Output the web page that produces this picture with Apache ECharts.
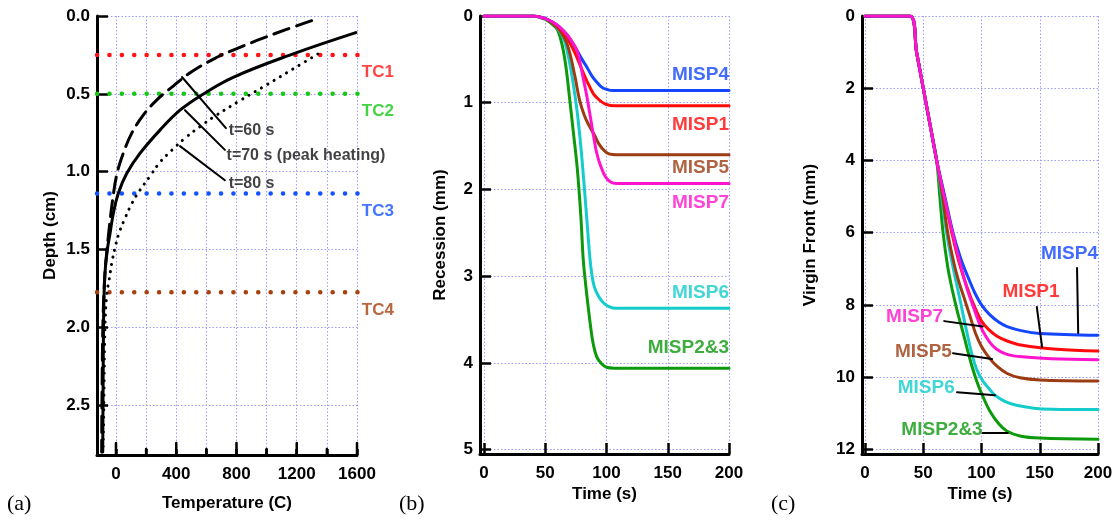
<!DOCTYPE html>
<html><head><meta charset="utf-8">
<script src="https://cdn.jsdelivr.net/npm/echarts@6/dist/echarts.min.js"></script>
<style>html,body{margin:0;padding:0;background:#fff}#c{width:1113px;height:520px}</style>
</head><body><div id="c"></div>
<script>
// ---------- Panel (a): temperature profiles ----------
const depthTicksA = [0, 0.5, 1.0, 1.5, 2.0, 2.5];
const tempTicksA = [0, 200, 400, 600, 800, 1000, 1200, 1400, 1600];
const tempLabelsA = [0, 400, 800, 1200, 1600];
// [temperature C, depth cm]
const profile60 = [[1299,0.03],[1132,0.086],[944,0.154],[778,0.219],[677,0.262],[502,0.358],[380,0.45],[270,0.54],[181,0.637],[104,0.754],[48,0.883],[5,1.02],[-22,1.18],[-44,1.355],[-62,1.526],[-73,1.65],[-86,1.95],[-93,2.47],[-95,2.8]];
const profile70 = [[1592,0.107],[1154,0.251],[778,0.394],[568,0.508],[425,0.605],[292,0.733],[159,0.883],[71,1.012],[15,1.14],[-18,1.27],[-40,1.40],[-58,1.505],[-73,1.65],[-80,1.83],[-83,2.0],[-86,2.47],[-88,2.8]];
const profile80 = [[1340,0.244],[1174,0.341],[1002,0.441],[829,0.540],[657,0.643],[557,0.711],[458,0.785],[371,0.862],[292,0.939],[226,1.029],[159,1.119],[106,1.203],[60,1.299],[20,1.395],[-7,1.492],[-27,1.582],[-46,1.698],[-60,1.781],[-73,2.0],[-80,2.47],[-86,2.8]];
const tcNames = ['TC1', 'TC2', 'TC3', 'TC4'];
const tcDepths = [0.25, 0.5, 1.14, 1.775];
const timeNamesA = ['t=60 s', 't=70 s (peak heating)', 't=80 s'];

// ---------- Panel (b): recession ----------
const timeTicks = [0, 50, 100, 150, 200];
const recTicks = [0, 1, 2, 3, 4, 5];
const recMISP23 = [[0,0],[40,0],[50,0.04],[56,0.1],[60,0.16],[64,0.35],[67,0.6],[70,0.97],[73,1.35],[76,1.74],[79,2.3],[81,2.81],[83,3.1],[85,3.35],[87,3.58],[89,3.77],[92,3.93],[96,4.01],[100,4.05],[106,4.06],[200,4.06]];
const recMISP6 = [[0,0],[40,0],[50,0.03],[56,0.08],[62,0.18],[66,0.3],[70,0.55],[73,0.8],[76,1.1],[79,1.5],[82,2.0],[84.5,2.45],[86.5,2.8],[88,2.98],[90,3.12],[93,3.22],[97,3.3],[102,3.35],[108,3.37],[200,3.37]];
const recMISP5 = [[0,0],[40,0],[50,0.03],[56,0.08],[62,0.17],[68,0.33],[74,0.68],[78,0.97],[82,1.15],[86,1.27],[90,1.37],[94,1.48],[98,1.55],[102,1.59],[108,1.6],[200,1.6]];
const recMISP1 = [[0,0],[40,0],[50,0.03],[56,0.08],[62,0.15],[68,0.26],[74,0.42],[80,0.62],[84,0.75],[89,0.89],[92,0.94],[96,0.99],[100,1.02],[106,1.035],[200,1.035]];
const recMISP4 = [[0,0],[40,0],[50,0.03],[56,0.07],[62,0.13],[68,0.22],[74,0.35],[80,0.5],[84,0.59],[88,0.69],[92,0.76],[96,0.82],[100,0.845],[105,0.86],[200,0.86]];
const recMISP7 = [[0,0],[40,0],[50,0.03],[56,0.07],[62,0.13],[68,0.22],[72,0.3],[76,0.4],[78,0.51],[81,0.72],[84,0.93],[87,1.18],[89,1.35],[92,1.58],[95,1.72],[99,1.85],[103,1.91],[108,1.93],[200,1.93]];

// ---------- Panel (c): virgin front ----------
const vfTicks = [0, 2, 4, 6, 8, 10, 12];
const vfMISP23 = [[0,0],[38.5,0],[44.25,1.0],[50,2.0],[55.75,3.0],[61.5,4.0],[64.2,5.0],[67,6.0],[71,6.95],[75,7.6],[79,8.15],[84,8.75],[88,9.25],[92,9.72],[96,10.12],[100,10.45],[107,10.93],[115,11.3],[122,11.5],[133,11.63],[150,11.69],[200,11.72]];
const vfMISP6 = [[0,0],[38.5,0],[44.25,1.0],[50,2.0],[55.75,3.0],[61.5,4.0],[65.8,5.0],[70,6.0],[75.5,6.95],[81.5,7.85],[87,8.7],[92,9.4],[96,9.8],[101,10.1],[106,10.3],[111.5,10.5],[120,10.67],[130,10.78],[145,10.86],[160,10.89],[200,10.9]];
const vfMISP5 = [[0,0],[38.5,0],[44.25,1.0],[50,2.0],[55.75,3.0],[61.5,4.0],[66.5,5.0],[71,6.0],[76,6.8],[80,7.3],[85,7.8],[90,8.3],[95,8.8],[100,9.15],[107,9.48],[114,9.72],[122,9.9],[133,10.02],[150,10.08],[200,10.11]];
const vfMISP1 = [[0,0],[38.5,0],[44.25,1.0],[50,2.0],[55.75,3.0],[61.5,4.0],[68,5.0],[74.5,6.0],[81,6.85],[88,7.55],[94,8.05],[100,8.45],[106,8.68],[113,8.86],[122,9.0],[135,9.12],[165,9.23],[200,9.28]];
const vfMISP4 = [[0,0],[38.5,0],[44.25,1.0],[50,2.0],[55.75,3.0],[61.5,4.0],[68.5,5.0],[75.5,6.0],[82,6.7],[88,7.2],[94,7.65],[100,8.0],[107,8.27],[115,8.48],[122,8.6],[135,8.72],[150,8.79],[200,8.84]];
const vfMISP7 = [[0,0],[38.5,0],[44.25,1.0],[50,2.0],[55.75,3.0],[61.5,4.0],[68,5.0],[75,6.0],[82,6.9],[88,7.6],[93,8.05],[97,8.42],[101,8.72],[107,9.03],[113,9.23],[122,9.37],[135,9.44],[160,9.49],[200,9.52]];

const seriesNames = ['MISP2&3', 'MISP6', 'MISP5', 'MISP1', 'MISP4', 'MISP7'];

// annotation placements (data units)
const tcLabelPos = [[1632,0.36],[1632,0.61],[1632,1.254],[1632,1.89]];
const tcLineSpan = [-126, 1850];
const timeLeaderA = [[[438,0.392],[730,0.72]], [[458,0.605],[723,0.86]], [[425,0.836],[723,1.055]]];
const timeLabelPosA = [[748,0.733],[734,0.894],[748,1.074]];
const labelPosB = {'MISP4':[200,0.68], 'MISP1':[200,1.25], 'MISP5':[200,1.75], 'MISP7':[200,2.15], 'MISP6':[200,3.19], 'MISP2&3':[200,3.82]};
const labelPosC = {'MISP4':[200,6.59], 'MISP1':[167,7.65], 'MISP7':[67,8.34], 'MISP5':[74.6,9.3], 'MISP6':[77,10.3], 'MISP2&3':[101,11.47]};
const leaderC = {'MISP4':[[182,6.98],[183,8.78]], 'MISP1':[[147.5,8.06],[152,9.17]], 'MISP7':[[68,8.45],[101,8.6]], 'MISP5':[[75.5,9.34],[109,9.5]], 'MISP6':[[79,10.42],[111.5,10.5]], 'MISP2&3':[[101,11.55],[122.6,11.55]]};

// ---------- styles ----------
const FONT = "'Liberation Sans', Arial, sans-serif";
const colorOf = {'MISP4':'#1446ff', 'MISP1':'#ff0a0a', 'MISP5':'#9c3c12', 'MISP7':'#ff14cc', 'MISP6':'#14cccc', 'MISP2&3':'#0c9a0c'};
const tcColors = ['#ff1414', '#14c814', '#1452ff', '#a8400f'];
const gridLine = {show: true, lineStyle: {color: '#9c9cff', type: [1.5, 2], width: 1}};
const tickFont = {fontFamily: FONT, fontWeight: 'bold', fontSize: 17, color: '#000'};
const nameFont = {fontFamily: FONT, fontWeight: 'bold', fontSize: 17, color: '#000'};
const dataB = {'MISP2&3':recMISP23, 'MISP6':recMISP6, 'MISP5':recMISP5, 'MISP1':recMISP1, 'MISP4':recMISP4, 'MISP7':recMISP7};
const dataC = {'MISP2&3':vfMISP23, 'MISP6':vfMISP6, 'MISP5':vfMISP5, 'MISP1':vfMISP1, 'MISP4':vfMISP4, 'MISP7':vfMISP7};

const DEPTH_MAX = 2.82;
const PX_PER_DEPTH = 439 / DEPTH_MAX;

function xAxis(grid, min, max, ticks, labels, name, gap, fmt, tickLen) {
  return {
    type: 'value', gridIndex: grid, min: min, max: max, position: 'bottom',
    name: name, nameLocation: 'middle', nameGap: gap, nameTextStyle: nameFont, nameMoveOverlap: false,
    axisLine: {show: true, onZero: false, lineStyle: {color: '#000', width: 3}},
    axisTick: {show: true, inside: true, length: tickLen, customValues: ticks, lineStyle: {color: '#000', width: 2.5}},
    axisLabel: Object.assign({show: true, margin: 11, customValues: labels, formatter: fmt, showMinLabel: true, showMaxLabel: true, hideOverlap: false}, tickFont),
    splitLine: gridLine
  };
}
function yAxis(grid, min, max, ticks, name, gap, fmt) {
  return {
    type: 'value', gridIndex: grid, min: min, max: max, inverse: true, position: 'left',
    name: name, nameLocation: 'middle', nameGap: gap, nameRotate: 90, nameTextStyle: nameFont, nameMoveOverlap: false,
    axisLine: {show: true, onZero: false, lineStyle: {color: '#000', width: 3}},
    axisTick: {show: true, inside: true, length: 11, customValues: ticks, lineStyle: {color: '#000', width: 2.5}},
    axisLabel: Object.assign({show: true, margin: 7, customValues: ticks, formatter: fmt, showMinLabel: true, showMaxLabel: true, hideOverlap: false}, tickFont),
    splitLine: gridLine
  };
}

const series = [];
function line(xi, data, color, width, type, extra) {
  return Object.assign({
    type: 'line', xAxisIndex: xi, yAxisIndex: xi, data: data, symbol: 'none', silent: true,
    lineStyle: {color: color, width: width, type: type || 'solid', cap: 'round', join: 'round'}
  }, extra || {});
}
function textSeries(xi, yi, items) {
  return {
    type: 'scatter', xAxisIndex: xi, yAxisIndex: yi, symbolSize: 1, clip: false, silent: true, z: 10,
    itemStyle: {color: 'rgba(0,0,0,0)'},
    data: items
  };
}

// Panel a: TC lines
tcNames.forEach((n, i) => {
  series.push(line(0, [[tcLineSpan[0], tcDepths[i]], [tcLineSpan[1], tcDepths[i]]], tcColors[i], 4.5, [0.1, 12.3], {clip: false}));
});
series.push(line(0, profile60, '#000', 3, [16, 8], {smooth: 0.4}));
series.push(line(0, profile70, '#000', 3, 'solid', {smooth: 0.4}));
series.push(line(0, profile80, '#000', 3, [0.1, 7.2], {smooth: 0.4}));
timeLeaderA.forEach(seg => series.push(line(0, seg, '#000', 2, 'solid', {clip: false})));
// bottom-edge ticks of panel a (tall at labelled temperatures, short in between)
tempTicksA.forEach(v => {
  const len = (tempLabelsA.indexOf(v) >= 0 ? 12 : 6) / PX_PER_DEPTH;
  series.push(line(0, [[v, DEPTH_MAX], [v, DEPTH_MAX - len]], '#000', 2.5, 'solid', {clip: false, z: 5}));
});
series.push(textSeries(0, 0, tcNames.map((n, i) => ({
  value: tcLabelPos[i], name: n,
  label: {show: true, position: 'inside', align: 'left', verticalAlign: 'middle', formatter: n,
          fontFamily: FONT, fontWeight: 'bold', fontSize: 17, color: tcColors[i]}
}))));
series.push(textSeries(0, 0, timeNamesA.map((n, i) => ({
  value: timeLabelPosA[i], name: n,
  label: {show: true, position: 'inside', align: 'left', verticalAlign: 'middle', formatter: n,
          fontFamily: FONT, fontWeight: 'bold', fontSize: 16, color: '#111'}
}))));

// Panel b
seriesNames.forEach(n => series.push(line(1, dataB[n], colorOf[n], 3, 'solid', {smooth: 0.4})));
series.push(textSeries(1, 1, seriesNames.map(n => ({
  value: labelPosB[n], name: n,
  label: {show: true, position: 'inside', align: 'right', verticalAlign: 'middle', formatter: n,
          fontFamily: FONT, fontWeight: 'bold', fontSize: 19, color: colorOf[n]}
}))));

// Panel c
seriesNames.forEach(n => series.push(line(2, dataC[n], colorOf[n], 3, 'solid', {smooth: 0.35})));
seriesNames.forEach(n => series.push(line(2, leaderC[n], '#000', 2, 'solid')));
series.push(textSeries(2, 2, seriesNames.map(n => ({
  value: labelPosC[n], name: n,
  label: {show: true, position: 'inside', align: 'right', verticalAlign: 'middle', formatter: n,
          fontFamily: FONT, fontWeight: 'bold', fontSize: 19, color: colorOf[n]}
}))));

const option = {
  animation: false,
  backgroundColor: '#fff',
  grid: [
    {left: 97, top: 16, width: 260, height: 439, outerBoundsMode: 'none', containLabel: false},
    {left: 480, top: 16, width: 249, height: 438, outerBoundsMode: 'none', containLabel: false},
    {left: 862, top: 16, width: 236, height: 438, outerBoundsMode: 'none', containLabel: false}
  ],
  xAxis: [
    xAxis(0, -126, 1600, tempTicksA, tempLabelsA, 'Temperature (C)', 40, v => String(v), 6),
    xAxis(1, -3.3, 200, timeTicks, timeTicks, 'Time (s)', 32, v => String(v), 11),
    xAxis(2, -2.6, 200, timeTicks, timeTicks, 'Time (s)', 32, v => String(v), 11)
  ],
  yAxis: [
    yAxis(0, 0, DEPTH_MAX, depthTicksA, 'Depth (cm)', 38, v => v.toFixed(1)),
    yAxis(1, 0, 5.05, recTicks, 'Recession (mm)', 31, v => String(v)),
    yAxis(2, 0, 12.13, vfTicks, 'Virgin Front (mm)', 43, v => String(v))
  ],
  graphic: [
    {type: 'text', left: 7, top: 493, style: {text: '(a)', font: "22px 'Liberation Serif', 'Times New Roman', serif", fill: '#000'}},
    {type: 'text', left: 399, top: 493, style: {text: '(b)', font: "22px 'Liberation Serif', 'Times New Roman', serif", fill: '#000'}},
    {type: 'text', left: 771, top: 493, style: {text: '(c)', font: "22px 'Liberation Serif', 'Times New Roman', serif", fill: '#000'}}
  ],
  series: series
};

const chart = echarts.init(document.getElementById('c'), null, {renderer: 'canvas'});
chart.setOption(option);
</script>
</body></html>
